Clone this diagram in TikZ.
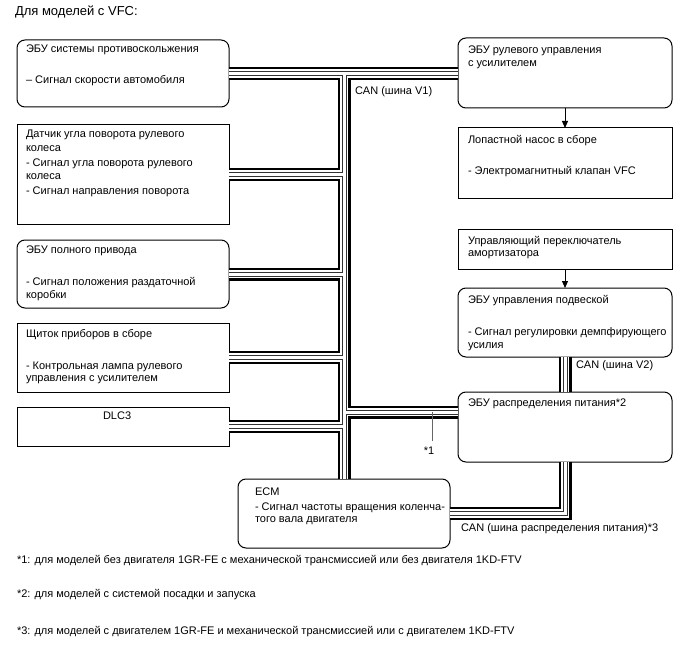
\documentclass[tikz,border=0pt]{standalone}
\usepackage{fontspec}
\setmainfont{Liberation Sans}
\usetikzlibrary{arrows.meta}
\begin{document}
\begin{tikzpicture}[x=1pt,y=-1pt,
  box/.style={draw=black, line width=1pt, inner sep=0pt, outer sep=0pt, fill=white},
  rbox/.style={box, rounded corners=8pt},
  txt/.style={font=\fontsize{11}{13}\selectfont, inner sep=0pt, outer sep=0pt, anchor=base west},
  ttl/.style={txt, font=\fontsize{13}{15}\selectfont},
  busA/.style={line width=13pt, draw=black},
  busB/.style={line width=8.4pt, draw=white},
  busC/.style={line width=5pt, draw=black!80},
  busD/.style={line width=3pt, draw=white},
  arr/.style={line width=1pt, -{Triangle[length=7pt,width=6pt]}},
  mark1/.style={line width=1pt, draw=black!60}]
\fill[white] (0,0) rectangle (688,658);
\useasboundingbox (0,0) rectangle (688,658);

% boxes
\node[rbox, minimum width=212pt, minimum height=67pt] (b1) at (123,73.5) {};
\node[box,  minimum width=212pt, minimum height=99pt] (b2) at (123,174.5) {};
\node[rbox, minimum width=212pt, minimum height=68pt] (b3) at (123,274) {};
\node[box,  minimum width=212pt, minimum height=69pt] (b4) at (123,357.5) {};
\node[box,  minimum width=212pt, minimum height=39pt] (b5) at (123,426.5) {};
\node[rbox, minimum width=214pt, minimum height=70pt] (r1) at (565,73) {};
\node[box,  minimum width=214pt, minimum height=70pt] (r2) at (565,163) {};
\node[box,  minimum width=214pt, minimum height=40pt] (r3) at (565,249) {};
\node[rbox, minimum width=214pt, minimum height=69pt] (r4) at (565,322.5) {};
\node[rbox, minimum width=214pt, minimum height=70pt] (r5) at (565,427) {};
\node[rbox, minimum width=212pt, minimum height=69pt] (ecm) at (344,513.5) {};

\coordinate (tk) at (344,0);
\coordinate (r5in) at (458,412);
\coordinate (s1) at (432,412);
\coordinate (s1e) at (432,441);

% CAN buses
\foreach \st in {busA,busB,busC,busD}{
  \path[\st] (b1.east) -- (b1.east -| r1.west);
  \path[\st] (b1.east -| tk) -- (ecm.north -| tk);
  \path[\st] (b2.east) -- (b2.east -| tk);
  \path[\st] (b3.east) -- (b3.east -| tk);
  \path[\st] (b4.east) -- (b4.east -| tk);
  \path[\st] (b5.east) -- (b5.east -| tk);
  \path[\st] (r5in -| tk) -- (r5in);
  \path[\st] (r4.south) -- (r5.north);
  \path[\st] (r5.south) -- (r5.south |- ecm.east) -- (ecm.east);
}

% arrows
\draw[arr] (r1.south) -- (r2.north);
\draw[arr] (r3.south) -- (r4.north);

% *1 marker
\draw[mark1] (s1) -- (s1e);
\node[txt, anchor=base] (st1) at (429,454) {*1};

% texts
\node[ttl] (title) at (15,16) {Для моделей с VFC:};

\node[txt] (b1a) at (26,53) {ЭБУ системы противоскольжения};
\node[txt] (b1b) at (26,84) {– Сигнал скорости автомобиля};

\node[txt] (b2a) at (26,138) {Датчик угла поворота рулевого};
\node[txt] (b2b) at (26,151) {колеса};
\node[txt] (b2c) at (26,166) {- Сигнал угла поворота рулевого};
\node[txt] (b2d) at (26,179) {колеса};
\node[txt] (b2e) at (26,194) {- Сигнал направления поворота};

\node[txt] (b3a) at (26,253) {ЭБУ полного привода};
\node[txt] (b3b) at (26,285) {- Сигнал положения раздаточной};
\node[txt] (b3c) at (26,298) {коробки};

\node[txt] (b4a) at (26,337) {Щиток приборов в сборе};
\node[txt] (b4b) at (26,369) {- Контрольная лампа рулевого};
\node[txt] (b4c) at (26,381) {управления с усилителем};

\node[txt] (b5a) at (103,419) {DLC3};

\node[txt] (r1a) at (468,54) {ЭБУ рулевого управления};
\node[txt] (r1b) at (468,67) {с усилителем};

\node[txt] (r2a) at (468,143) {Лопастной насос в сборе};
\node[txt] (r2b) at (468,175) {- Электромагнитный клапан VFC};

\node[txt] (r3a) at (468,244) {Управляющий переключатель};
\node[txt] (r3b) at (468,256) {амортизатора};

\node[txt] (r4a) at (468,303) {ЭБУ управления подвеской};
\node[txt] (r4b) at (468,335) {- Сигнал регулировки демпфирующего};
\node[txt] (r4c) at (468,348) {усилия};

\node[txt] (r5a) at (468,406) {ЭБУ распределения питания*2};

\node[txt] (ecma) at (255,495) {ECM};
\node[txt] (ecmb) at (255,510) {- Сигнал частоты вращения коленча-};
\node[txt] (ecmc) at (255,522) {того вала двигателя};

\node[txt] (canv1) at (355,95) {CAN (шина V1)};
\node[txt] (canv2) at (576,368) {CAN (шина V2)};
\node[txt] (canpd) at (461,531) {CAN (шина распределения питания)*3};

\node[txt] (fn1) at (17,563) {*1: для моделей без двигателя 1GR-FE с механической трансмиссией или без двигателя 1KD-FTV};
\node[txt] (fn2) at (17,597) {*2: для моделей с системой посадки и запуска};
\node[txt] (fn3) at (17,634) {*3: для моделей с двигателем 1GR-FE и механической трансмиссией или с двигателем 1KD-FTV};
\end{tikzpicture}
\end{document}
